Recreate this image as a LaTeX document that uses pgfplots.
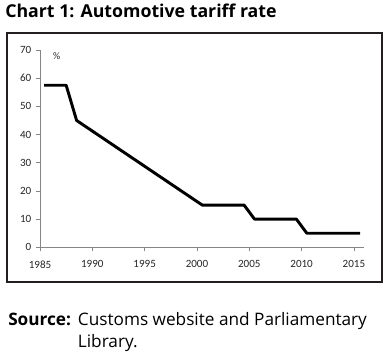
\documentclass[border=0pt]{standalone}
\usepackage{pgfplots}
\pgfplotsset{compat=1.18}
\usepackage{fontspec}
\setmainfont{Open Sans}
\newfontfamily\tickfont{Carlito}
\definecolor{frame}{HTML}{231F20}
\definecolor{axgray}{HTML}{868686}
\begin{document}
\begin{tikzpicture}
\begin{scope}[x=0.75pt,y=0.75pt]
\path[use as bounding box] (0,0) rectangle (389,364);
\draw[frame, line width=0.9pt] (7,82) rectangle (382,331);
\node[anchor=base west, inner sep=0pt, font=\fontsize{13.3}{15}\selectfont\bfseries] at (5,346) {Chart 1: Automotive tariff rate};
\node[anchor=base west, inner sep=0pt, font=\fontsize{12.9}{15}\selectfont\bfseries] at (8,38.3) {Source:};
\node[anchor=base west, inner sep=0pt, font=\fontsize{12.9}{15}\selectfont] at (77.7,38.3) {Customs website and Parliamentary};
\node[anchor=base west, inner sep=0pt, font=\fontsize{12.9}{15}\selectfont] at (77.7,16.3) {Library.};
\end{scope}
\begin{axis}[
  at={(30pt,87.5pt)}, anchor=south west,
  scale only axis, width=243.3pt, height=148pt,
  xmin=1985, xmax=2016, ymin=0, ymax=70,
  axis x line=bottom, axis y line=left,
  axis line style={axgray, -},
  xtick={1985,1990,...,2015}, ytick={0,10,...,70},
  tick style={axgray, thin}, tick align=outside,
  major tick length=3pt,
  x tick label style={font=\tickfont\fontsize{8.3}{9}\selectfont, text=black!85, yshift=-3.5pt},
  y tick label style={font=\tickfont\fontsize{8.3}{9}\selectfont, text=black!85},
  /pgf/number format/assume math mode=true,
  /pgf/number format/1000 sep={},
  clip=false,
]
\addplot[black, line width=2.2pt, line join=round] coordinates {
(1985.4,57.5) (1987.5,57.5) (1988.5,45) (2000.5,15) (2004.5,15) (2005.5,10) (2009.5,10) (2010.5,5) (2015.6,5)};
\node[anchor=center, font=\tickfont\fontsize{7.5}{8}\selectfont, text=black!85] at (axis cs:1986.6,68) {\%};
\end{axis}
\end{tikzpicture}
\end{document}
